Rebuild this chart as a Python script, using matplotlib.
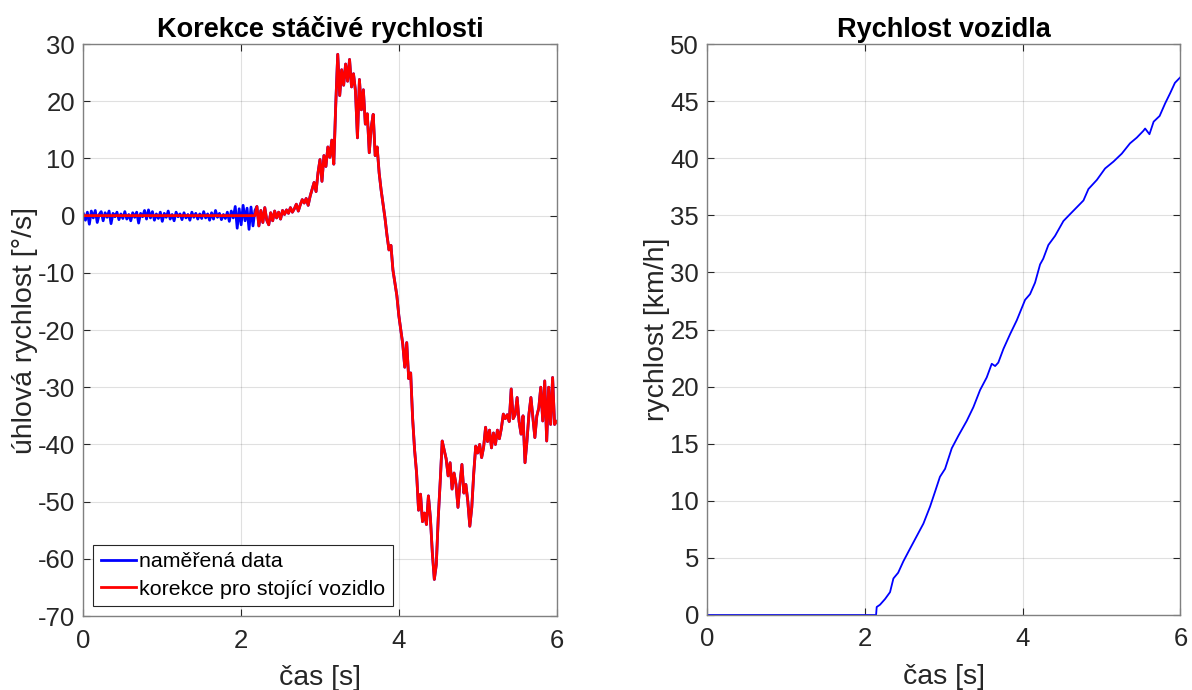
import numpy as np
import matplotlib
matplotlib.use("Agg")
import matplotlib.pyplot as plt

plt.rcParams['font.family'] = ['Liberation Sans', 'DejaVu Sans']
plt.rcParams['axes.unicode_minus'] = False

# ---- data ----
yaw_dt = 0.025  # sampling step of yaw-rate record [s]
yaw_measured = [
    # 0.000 - 0.475
    0.3, -0.8, 0.6, -1.5, 0.8, -0.4, 0.9, -1.2, 0.2, 0.7, -0.9, 0.5, -0.3, 0.8, -1.4, 0.4, -0.2, 0.6, -0.7, 0.3,
    # 0.500 - 0.975
    -0.5, 0.7, -0.6, 0.2, -0.9, 0.5, -0.3, 0.6, -1.3, 0.4, -0.2, 0.9, -0.6, 1.0, -0.4, 0.7, -0.8, 0.3, -0.5, 0.6,
    # 1.000 - 1.475
    -1.0, 0.4, -0.3, 0.8, -0.6, 0.2, -0.9, 0.6, -0.2, 0.3, -0.7, 0.5, -0.4, 0.2, -0.8, 0.6, -0.3, 0.4, -0.6, 0.3,
    # 1.500 - 1.975
    -0.5, 0.7, -0.4, 0.3, -0.8, 0.5, -0.6, 0.9, -0.3, 0.4, -0.7, 0.2, -0.5, 0.6, -1.0, 0.8, -0.4, 1.6, -2.2, 1.2,
    # 2.000 - 2.175
    -1.6, 1.8, -0.9, 1.3, -2.4, 1.5, -1.8, 0.9,
    # 2.200 - 2.475
    1.6, -1.8, 0.9, -1.2, 1.4, -0.8, -1.6, 0.5, -0.9, 0.8, -0.4, 0.6,
    # 2.500 - 2.775
    -0.6, 0.9, 0.2, 1.0, 0.4, 1.4, 0.6, 1.2, 2.0, 0.8, 1.9, 2.8,
    # 2.800 - 3.175
    2.2, 3.0, 1.8, 3.4, 4.6, 5.8, 4.2, 7.5, 9.8, 6.0, 10.5, 8.6, 12.0, 10.2, 13.2, 9.0,
    # 3.200 - 3.575
    19.5, 28.2, 21.0, 25.5, 22.8, 26.5, 23.5, 27.3, 22.5, 24.8, 21.8, 13.6, 23.8, 18.5, 22.0, 16.0,
    # 3.600 - 3.975
    17.8, 11.0, 15.5, 17.7, 10.5, 12.0, 7.5, 4.5, 2.0, -0.5, -3.5, -6.0, -5.2, -9.5, -11.8, -14.0,
    # 4.000 - 4.375
    -17.5, -20.0, -22.5, -26.5, -22.2, -28.5, -27.5, -35.5, -41.0, -45.0, -51.5, -48.7, -53.5, -52.0, -54.0, -49.0,
    # 4.400 - 4.775
    -52.8, -59.0, -63.6, -61.0, -52.8, -46.4, -39.4, -41.0, -42.5, -45.5, -43.2, -47.8, -45.0, -47.0, -51.0, -46.8,
    # 4.800 - 5.175
    -43.5, -48.5, -47.0, -50.0, -54.3, -51.0, -45.0, -40.3, -41.5, -40.0, -42.3, -40.5, -37.0, -39.5, -37.5, -40.6,
    # 5.200 - 5.575
    -38.0, -40.0, -37.5, -39.0, -37.2, -34.7, -35.5, -34.8, -36.0, -30.3, -35.5, -34.8, -31.8, -36.0, -38.2, -35.0,
    # 5.600 - 6.000
    -43.2, -39.4, -34.7, -31.8, -35.3, -38.8, -35.0, -33.6, -30.0, -35.9, -28.9, -39.4, -30.0, -36.5, -28.3, -36.5,
    -36.0,
]
standstill_end = 2.2  # [s] vehicle at rest before this time

speed_t = [0.0, 2.14, 2.148, 2.19, 2.254, 2.317, 2.36, 2.42, 2.486, 2.57, 2.655, 2.74, 2.825, 2.888, 2.95,
           3.015, 3.1, 3.184, 3.29, 3.374, 3.459, 3.543, 3.607, 3.65, 3.69, 3.755, 3.84, 3.924, 4.03,
           4.093, 4.156, 4.22, 4.26, 4.325, 4.41, 4.516, 4.6, 4.685, 4.77, 4.833, 4.94, 5.044, 5.15,
           5.256, 5.36, 5.446, 5.53, 5.552, 5.607, 5.66, 5.736, 5.806, 5.87, 5.93, 6.0]
speed_v = [0.0, 0.0, 0.7, 0.9, 1.4, 2.0, 3.2, 3.7, 4.7, 5.8, 6.9, 8.0, 9.5, 10.8, 12.1,
           12.8, 14.6, 15.7, 17.0, 18.2, 19.7, 20.8, 22.0, 21.8, 22.1, 23.3, 24.6, 25.8, 27.6,
           28.1, 29.1, 30.7, 31.2, 32.4, 33.2, 34.5, 35.1, 35.7, 36.3, 37.3, 38.1, 39.1, 39.7,
           40.4, 41.3, 41.8, 42.4, 42.6, 42.1, 43.2, 43.7, 44.8, 45.7, 46.6, 47.1]

# ---- derived ----
yaw_measured = np.array(yaw_measured)
t = np.arange(len(yaw_measured)) * yaw_dt
yaw_corrected = np.where(t < standstill_end - 1e-9, 0.0, yaw_measured)

TXT = '#262626'
fig = plt.figure(figsize=(11.92, 6.90), dpi=100)
ax1 = fig.add_axes([0.0700, 0.1072, 0.3969, 0.8290])
ax2 = fig.add_axes([0.5934, 0.1087, 0.3969, 0.8275])

ax1.plot(t, yaw_measured, color='#0000ff', lw=2.0, label='naměřená data')
ax1.plot(t, yaw_corrected, color='#ff0000', lw=2.0, label='korekce pro stojící vozidlo')
ax2.plot(speed_t, speed_v, color='#0000ff', lw=1.3)

ax1.set_xlim(0, 6); ax1.set_ylim(-70, 30)
ax1.set_yticks(np.arange(-70, 31, 10))
ax2.set_xlim(0, 6); ax2.set_ylim(0, 50)
ax2.set_yticks(np.arange(0, 51, 5))

for ax, title, ylabel in [(ax1, 'Korekce stáčivé rychlosti', 'úhlová rychlost [°/s]'),
                          (ax2, 'Rychlost vozidla', 'rychlost [km/h]')]:
    ax.set_xticks([0, 2, 4, 6])
    ax.grid(True, color='#000000', alpha=0.12, lw=0.8)
    ax.set_axisbelow(True)
    ax.tick_params(direction='in', top=True, right=True, length=5, width=0.8,
                   colors=TXT, labelsize=18.5)
    ax.tick_params(axis='x', pad=9)
    ax.tick_params(axis='y', pad=6)
    for s in ax.spines.values():
        s.set_color('#808080')
        s.set_linewidth(1.0)
    ax.set_title(title, fontsize=19.5, fontweight='bold', color='#000000', pad=5)
    ax.set_xlabel('čas [s]', fontsize=20.5, color=TXT, labelpad=9)
    ax.set_ylabel(ylabel, fontsize=20.5, color=TXT, labelpad=0)

leg = ax1.legend(loc='lower left', fontsize=15.4, frameon=True, fancybox=False,
                 edgecolor='#262626', framealpha=1, handlelength=1.65, handletextpad=0.15,
                 borderpad=0.35, labelspacing=0.4, borderaxespad=0.45)
leg.get_frame().set_linewidth(0.8)

fig.savefig('out.png', dpi=100)
